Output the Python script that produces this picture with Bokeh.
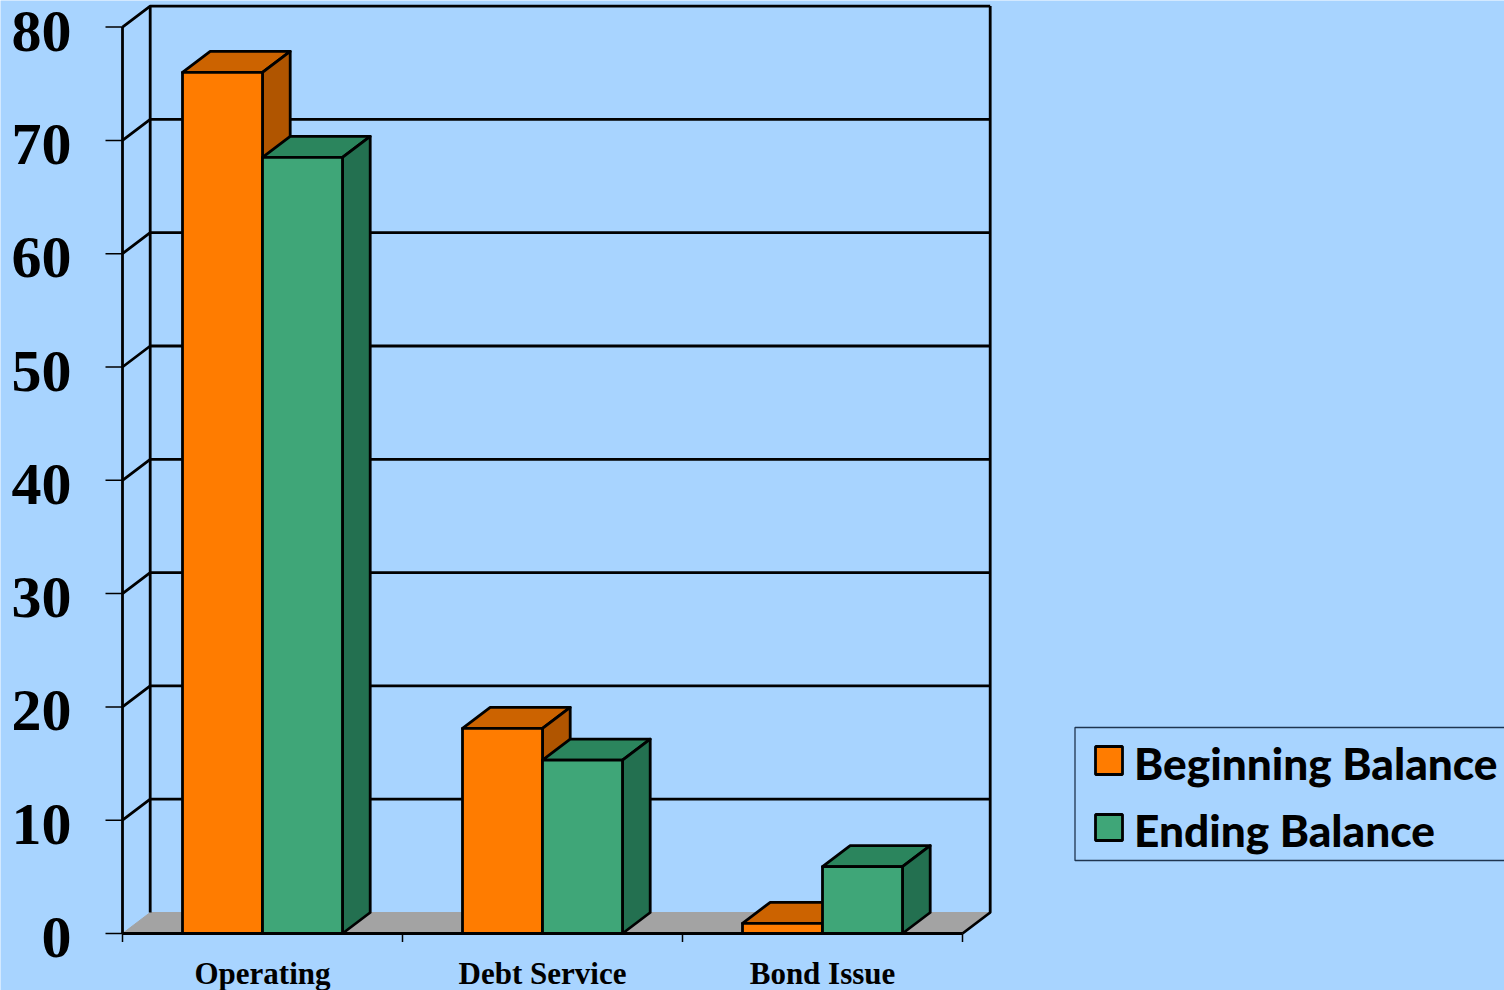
from bokeh.embed import file_html
from bokeh.resources import INLINE
from bokeh.plotting import figure
from bokeh.models import Range1d
from bokeh.core.properties import value

categories = ["Operating", "Debt Service", "Bond Issue"]
beginning_balance = [76.0, 18.1, 0.9]
ending_balance = [68.5, 15.3, 5.9]
y_ticks = [0, 10, 20, 30, 40, 50, 60, 70, 80]
series_names = ["Beginning Balance", "Ending Balance"]

W, H = 1504, 990
BG = "#A8D4FF"
ORANGE = ("#FF7C00", "#CC6300", "#B05500")
GREEN = ("#3FA678", "#2B855D", "#237050")
FLOOR = "#A3A3A3"

# One category spans one x unit; the y scale is the chart's value scale.
X0, X_UNIT = 122.0, 280.0
Y0, Y_UNIT = 933.0, 11.33
DX, DY = 27.7 / X_UNIT, 21.0 / Y_UNIT      # oblique depth of the box
BAR_W = 80.0 / X_UNIT
Y_MAX = 80


def px(x):
    return (x - X0) / X_UNIT


def py(y):
    return (Y0 - y) / Y_UNIT


p = figure(width=W, height=H, output_backend="svg", toolbar_location=None,
           x_range=Range1d(px(0), px(W)), y_range=Range1d(py(H), py(0)),
           min_border=0, outline_line_color=None, background_fill_color=BG,
           border_fill_color=BG)
p.axis.visible = False
p.grid.visible = False

n = len(categories)
LW = 2.8

# Floor
p.patch([0, DX, n + DX, n], [0, DY, DY, 0], fill_color=FLOOR, line_color=FLOOR, line_width=1)

# Back wall and left wall with their gridlines
for t in y_ticks[1:]:
    p.line([0, DX, n + DX], [t, t + DY, t + DY], line_color="black", line_width=LW)
p.line([DX, DX], [DY, Y_MAX + DY], line_color="black", line_width=LW)
p.line([n + DX, n + DX, n], [Y_MAX + DY, DY, 0], line_color="black", line_width=LW)
p.line([0, 0], [0, Y_MAX], line_color="black", line_width=LW)
p.line([n, n], [0, -0.75], line_color="black", line_width=1.5)

# Tick marks and front floor edge
for t in y_ticks:
    p.line([px(105), 0], [t, t], line_color="black", line_width=1.5)
for i in range(n):
    p.line([i, i], [0, -0.75], line_color="black", line_width=1.5)
p.line([0, n], [0, 0], line_color="black", line_width=LW)


def box(left, top, colors):
    right = left + BAR_W
    p.patch([left, left + DX, right + DX, right], [top, top + DY, top + DY, top],
            fill_color=colors[1], line_color="black", line_width=LW, line_join="round")
    p.patch([right, right + DX, right + DX, right], [0, DY, top + DY, top],
            fill_color=colors[2], line_color="black", line_width=LW, line_join="round")
    p.patch([left, right, right, left], [0, 0, top, top],
            fill_color=colors[0], line_color="black", line_width=LW, line_join="round")


for i in range(n):
    centre = i + 0.5
    box(centre - BAR_W, beginning_balance[i], ORANGE)
    box(centre, ending_balance[i], GREEN)

# Value and category labels
p.text([px(71)] * len(y_ticks), y_ticks, text=[str(t) for t in y_ticks],
       text_font=value("Liberation Serif"), text_font_style="bold", text_font_size="60px",
       text_align="right", text_baseline="middle", text_color="black", y_offset=4)
p.text([i + 0.5 for i in range(n)], [py(972.5)] * n, text=categories,
       text_font=value("Liberation Serif"), text_font_style="bold", text_font_size="31px",
       text_align="center", text_baseline="middle", text_color="black")

# Legend
p.quad(left=[px(1074.5)], right=[px(1510)], bottom=[py(860)], top=[py(727)],
       fill_color=BG, line_color="#1F3550", line_width=1.3)
swatch_y = [(746, 774), (814, 840)]
text_y = [762, 829]
for (y1, y2), colors in zip(swatch_y, (ORANGE, GREEN)):
    p.quad(left=[px(1095)], right=[px(1122)], bottom=[py(y2)], top=[py(y1)],
           fill_color=colors[0], line_color="black", line_width=2.8)
p.text([px(1133.5)] * 2, [py(y) for y in text_y], text=series_names,
       text_font=value("Lato Black"), text_font_style="normal", text_font_size="44.2px",
       text_align="left", text_baseline="middle", text_color="black")

open("out.html", "w").write(file_html(p, INLINE))
